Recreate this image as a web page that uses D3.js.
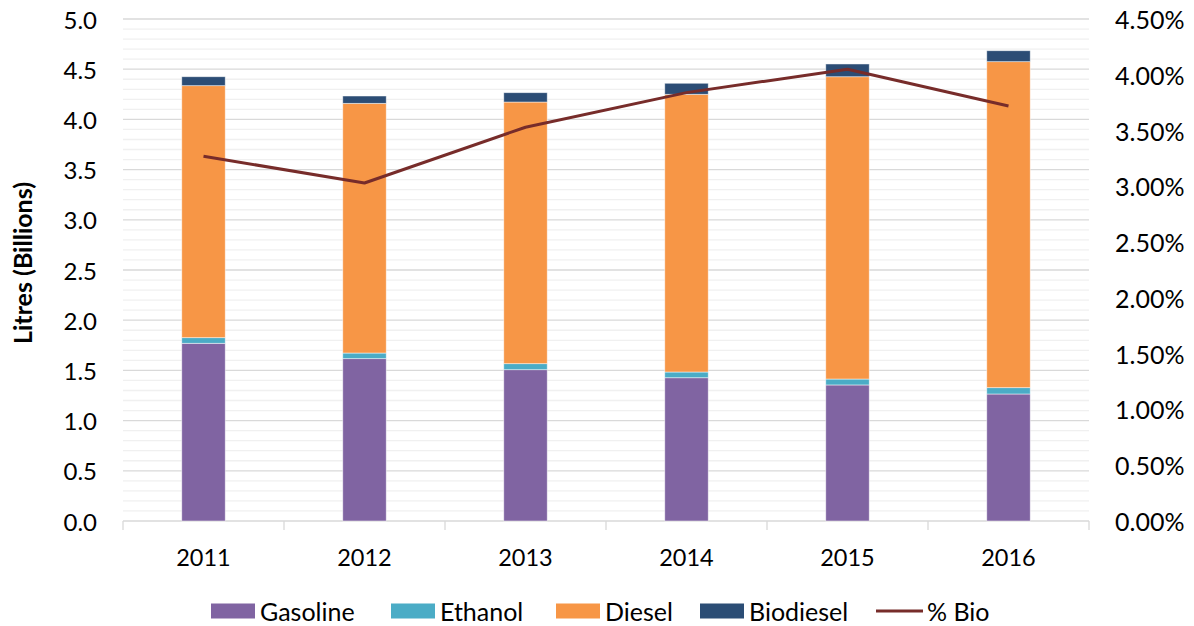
<!DOCTYPE html>
<html>
<head>
<meta charset="utf-8">
<script src="https://cdn.jsdelivr.net/npm/d3@7"></script>
<style>
  html, body { margin: 0; padding: 0; background: #fff; }
  svg { display: block; font-family: Lato, "Open Sans", sans-serif; }
</style>
</head>
<body>
<svg id="chart" width="1194" height="626"></svg>
<script>
// Transport fuel volumes by year (billions of litres) and biofuel share (%)
const years = ["2011", "2012", "2013", "2014", "2015", "2016"];
const gasoline  = [1.770, 1.617, 1.507, 1.427, 1.355, 1.265];
const ethanol   = [0.056, 0.056, 0.060, 0.057, 0.059, 0.063];
const diesel    = [2.510, 2.487, 2.606, 2.766, 3.011, 3.247];
const biodiesel = [0.089, 0.073, 0.093, 0.110, 0.127, 0.109];
const pctBio    = [3.27, 3.03, 3.53, 3.84, 4.05, 3.72];

const leftTicks  = [0, 0.5, 1.0, 1.5, 2.0, 2.5, 3.0, 3.5, 4.0, 4.5, 5.0];
const rightTicks = [0, 0.5, 1.0, 1.5, 2.0, 2.5, 3.0, 3.5, 4.0, 4.5];

const seriesKeys = ["Gasoline", "Ethanol", "Diesel", "Biodiesel"];
const seriesColors = ["#8064A2", "#4BACC6", "#F79646", "#2C4D75"];
const lineLabel = "% Bio";
const lineColor = "#772C2A";

const rows = years.map((y, i) => ({
  year: y,
  Gasoline: gasoline[i],
  Ethanol: ethanol[i],
  Diesel: diesel[i],
  Biodiesel: biodiesel[i]
}));

const svg = d3.select("#chart");
const plot = { left: 123, right: 1089, top: 19, bottom: 521 };

const x = d3.scaleBand().domain(years).range([plot.left, plot.right]).padding(0);
const yL = d3.scaleLinear().domain([0, 5]).range([plot.bottom, plot.top]);
const yR = d3.scaleLinear().domain([0, 4.5]).range([plot.bottom, plot.top]);
const color = d3.scaleOrdinal().domain(seriesKeys).range(seriesColors);

// minor gridlines every 0.1
const minor = d3.range(0, 51).map(v => v / 10).filter(v => Math.round(v * 10) % 5 !== 0);
svg.append("g").selectAll("line").data(minor).join("line")
  .attr("x1", plot.left).attr("x2", plot.right)
  .attr("y1", d => yL(d)).attr("y2", d => yL(d))
  .attr("stroke", "#f0f0f0").attr("stroke-width", 1.3);

// major gridlines every 0.5
svg.append("g").selectAll("line").data(leftTicks.filter(d => d > 0)).join("line")
  .attr("x1", plot.left).attr("x2", plot.right)
  .attr("y1", d => yL(d)).attr("y2", d => yL(d))
  .attr("stroke", "#d9d9d9").attr("stroke-width", 1.3);

// category axis
const xAxis = svg.append("g").attr("transform", `translate(0,${plot.bottom})`);
xAxis.append("line")
  .attr("x1", plot.left).attr("x2", plot.right)
  .attr("stroke", "#d9d9d9").attr("stroke-width", 1.3);
const bounds = years.map(y => x(y)).concat([x(years[years.length - 1]) + x.bandwidth()]);
xAxis.selectAll("line.tick").data(bounds).join("line")
  .attr("class", "tick")
  .attr("x1", d => d).attr("x2", d => d)
  .attr("y1", 0).attr("y2", 9)
  .attr("stroke", "#d9d9d9").attr("stroke-width", 1.3);
xAxis.selectAll("text").data(years).join("text")
  .attr("x", d => x(d) + x.bandwidth() / 2)
  .attr("y", 36)
  .attr("text-anchor", "middle")
  .attr("dominant-baseline", "central")
  .attr("font-size", 23.5)
  .attr("fill", "#000")
  .text(d => d);

// left value axis labels
svg.append("g").selectAll("text").data(leftTicks).join("text")
  .attr("x", 97).attr("y", d => yL(d))
  .attr("text-anchor", "end")
  .attr("dominant-baseline", "central")
  .attr("font-size", 24)
  .text(d => d.toFixed(1));

// right percentage axis labels
svg.append("g").selectAll("text").data(rightTicks).join("text")
  .attr("x", 1115).attr("y", d => yR(d))
  .attr("text-anchor", "start")
  .attr("dominant-baseline", "central")
  .attr("font-size", 25)
  .text(d => d.toFixed(2) + "%");

// axis title
svg.append("text")
  .attr("transform", `translate(22,${(plot.top + plot.bottom) / 2 - 7}) rotate(-90)`)
  .attr("text-anchor", "middle")
  .attr("dominant-baseline", "central")
  .attr("font-size", 25)
  .attr("font-weight", "bold")
  .text("Litres (Billions)");

// stacked bars
const stacked = d3.stack().keys(seriesKeys)(rows);
const barW = x.bandwidth() * 0.27;
svg.append("g").selectAll("g").data(stacked).join("g")
  .attr("fill", d => color(d.key))
  .selectAll("rect").data(d => d).join("rect")
  .attr("x", d => x(d.data.year) + (x.bandwidth() - barW) / 2)
  .attr("width", barW)
  .attr("y", d => yL(d[1]))
  .attr("height", d => yL(d[0]) - yL(d[1]))
  .attr("stroke", "#ffffff").attr("stroke-opacity", 0.6).attr("stroke-width", 0.8);

// biofuel share line
const line = d3.line()
  .x((d, i) => x(years[i]) + x.bandwidth() / 2)
  .y(d => yR(d));
svg.append("path").datum(pctBio)
  .attr("d", line)
  .attr("fill", "none")
  .attr("stroke", lineColor)
  .attr("stroke-width", 3)
  .attr("stroke-linejoin", "round");

// legend
const legendY = 611;
const legendItems = [
  { label: "Gasoline", x: 211 },
  { label: "Ethanol", x: 391 },
  { label: "Diesel", x: 556 },
  { label: "Biodiesel", x: 700 }
];
const lg = svg.append("g");
legendItems.forEach(item => {
  lg.append("rect")
    .attr("x", item.x).attr("y", legendY - 7.5)
    .attr("width", 44).attr("height", 15)
    .attr("fill", color(item.label));
  lg.append("text")
    .attr("x", item.x + 49).attr("y", legendY)
    .attr("dominant-baseline", "central")
    .attr("font-size", 25)
    .text(item.label);
});
lg.append("line")
  .attr("x1", 876).attr("x2", 923)
  .attr("y1", legendY).attr("y2", legendY)
  .attr("stroke", lineColor).attr("stroke-width", 3);
lg.append("text")
  .attr("x", 927).attr("y", legendY)
  .attr("dominant-baseline", "central")
  .attr("font-size", 25)
  .text(lineLabel);
</script>
</body>
</html>
